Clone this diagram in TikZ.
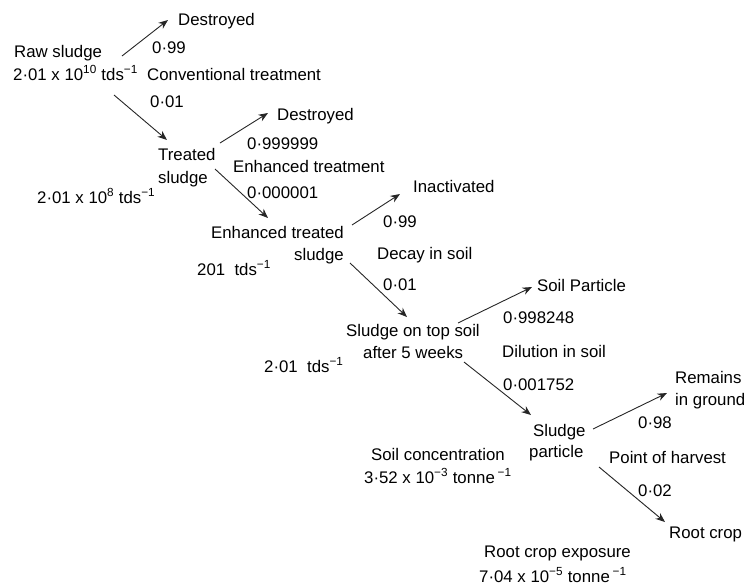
\documentclass[tikz,border=0pt]{standalone}
\usepackage{fontspec}
\setmainfont{Liberation Sans}
\usetikzlibrary{calc,arrows.meta}
\newcommand{\sups}[1]{\textsuperscript{#1}}
\begin{document}
\begin{tikzpicture}[x=1pt,y=-1pt,
  lbl/.style={anchor=base west,inner sep=0pt,text=black,
    font=\fontsize{16.8}{20}\selectfont},
  flow/.style={-{Stealth[length=9.5pt,width=7.5pt]},line width=0.9pt,black!85}]
\useasboundingbox (0,0) rectangle (748,584);

% stage 1: raw sludge
\node[lbl] (d1)    at (178,25)  {Destroyed};
\node[lbl] (raw)   at (14,57)   {Raw sludge};
\node[lbl] (rawv)  at (13,80)   {2·01 x 10\sups{10} tds\sups{−1}};
\node[lbl] (p1)    at (152,53)  {0·99};
\node[lbl] (conv)  at (147,80)  {Conventional treatment};
\node[lbl] (p2)    at (150,107) {0·01};

% stage 2: treated sludge
\node[lbl] (ts1)   at (158,160) {Treated};
\node[lbl] (ts2)   at (158,183) {sludge};
\node[lbl] (tsv)   at (37,203)  {2·01 x 10\sups{8} tds\sups{−1}};
\node[lbl] (d2)    at (277,120) {Destroyed};
\node[lbl] (p3)    at (247,149) {0·999999};
\node[lbl] (enh)   at (233,172) {Enhanced treatment};
\node[lbl] (p4)    at (247,198) {0·000001};

% stage 3: enhanced treated sludge
\node[lbl] (ets1)  at (211,238) {Enhanced treated};
\node[lbl] (ets2)  at (294,260) {sludge};
\node[lbl] (etsv)  at (197,275) {201\ \ tds\sups{−1}};
\node[lbl] (inact) at (413,192) {Inactivated};
\node[lbl] (p5)    at (383,227) {0·99};
\node[lbl] (decay) at (377,259) {Decay in soil};
\node[lbl] (p6)    at (383,290) {0·01};

% stage 4: sludge on top soil
\node[lbl] (top1)  at (346,336) {Sludge on top soil};
\node[lbl] (top2)  at (363,358) {after 5 weeks};
\node[lbl] (topv)  at (264,372) {2·01\ \ tds\sups{−1}};
\node[lbl] (soilp) at (537,291) {Soil Particle};
\node[lbl] (p7)    at (503,323) {0·998248};
\node[lbl] (dil)   at (502,357) {Dilution in soil};
\node[lbl] (p8)    at (503,390) {0·001752};

% stage 5: sludge particle
\node[lbl] (sp1)   at (533,436) {Sludge};
\node[lbl] (sp2)   at (529,457) {particle};
\node[lbl] (conc1) at (371,460) {Soil concentration};
\node[lbl] (conc2) at (364,483) {3·52 x 10\sups{−3} tonne\,\sups{−1}};
\node[lbl] (rem1)  at (675,383) {Remains};
\node[lbl] (rem2)  at (675,405) {in ground};
\node[lbl] (p9)    at (638,428) {0·98};
\node[lbl] (harv)  at (609,463) {Point of harvest};
\node[lbl] (p10)   at (638,496) {0·02};
\node[lbl] (root)  at (669,538) {Root crop};
\node[lbl] (exp1)  at (484,557) {Root crop exposure};
\node[lbl] (exp2)  at (479,582) {7·04 x 10\sups{−5} tonne\,\sups{−1}};

% branches
\draw[flow] ($(raw.base west)+(108,-1)$)   -- ($(d1.base west)+(-10,-5)$);
\draw[flow] ($(rawv.base west)+(101,15)$)  -- ($(ts1.base west)+(9,-20)$);
\draw[flow] ($(ts1.base west)+(62,-17)$)   -- ($(d2.base west)+(-9,-7)$);
\draw[flow] ($(ts2.base west)+(57,-14)$)   -- ($(ets1.base west)+(57,-20)$);
\draw[flow] ($(ets1.base west)+(141,-13)$) -- ($(inact.base west)+(-13,2)$);
\draw[flow] ($(ets2.base west)+(56,3)$)    -- ($(top1.base west)+(61,-19)$);
\draw[flow] ($(top1.base west)+(112,-13)$) -- ($(soilp.base west)+(-5,-4)$);
\draw[flow] ($(top2.base west)+(101,4)$)   -- ($(sp1.base west)+(-2,-21)$);
\draw[flow] ($(sp1.base west)+(60,-7)$)    -- ($(rem1.base west)+(-8,10)$);
\draw[flow] ($(sp2.base west)+(70,10)$)    -- ($(root.base west)+(-4,-16)$);
\end{tikzpicture}
\end{document}
